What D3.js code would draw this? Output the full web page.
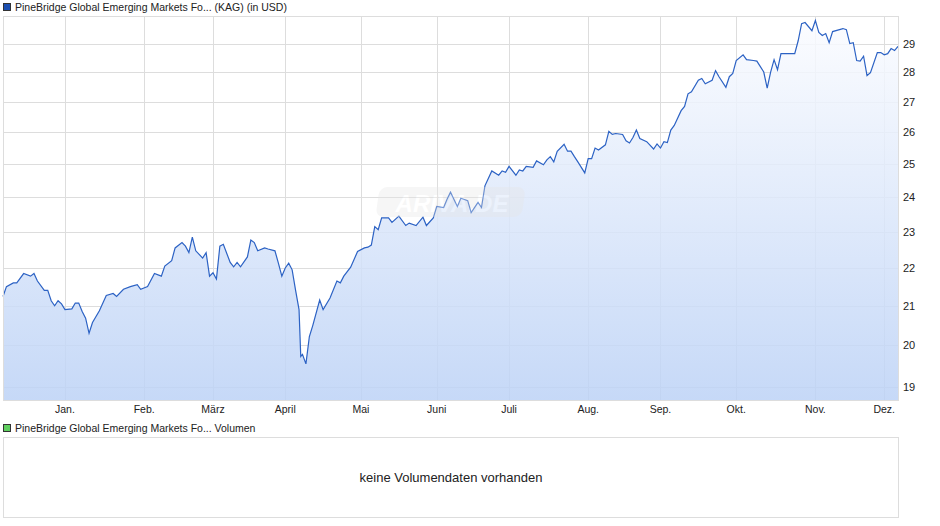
<!DOCTYPE html>
<html><head><meta charset="utf-8">
<script src="https://cdn.jsdelivr.net/npm/d3@7"></script>
<style>body{margin:0;background:#fff}svg{font-family:"Liberation Sans",Arial,sans-serif}</style>
</head><body><div id="chart"></div>
<script>
// trading day number counted from 2024-12-06, and fund price (USD)
const tradingDay = [0,1,3,4,6,8,9,10,12,13,14,15,16,17,18,20,21,22,23,24,25,26,28,30,32,33,35,37,39,40,42,44,46,47,49,50,52,53,54,55,56,58,59,60,61,62,63,64,66,67,68,69,71,72,73,74,76,77,79,80,81,82,83,84,85,86,86.5,87,88,89,90,92,93,95,97,98,99,101,103,105,106,107,108,109,110,112,113,115,117,118,120,122,123,125,126,128,129,130,132,133,135,136,138,139,140,142,144,145,146,147,149,150,151,152,154,155,157,158,159,160,161,163,164,165,166,167,169,170,171,172,173,175,176,177,178,180,181,182,183,184,185,187,189,190,191,192,193,194,195,197,198,199,200,202,203,204,206,207,208,210,211,212,213,215,216,218,219,221,222,223,224,225,226,228,230,231,232,233,235,236,237,238,239,240,241,244,245,246,247,248,249,250,251,252,254,255,256,257,258,259,260];
const prices = [21.24,21.5,21.6,21.6,21.85,21.78,21.85,21.65,21.4,21.4,21.13,21.0,21.13,21.05,20.9,20.92,21.07,21.07,20.85,20.68,20.3,20.57,20.87,21.27,21.32,21.24,21.43,21.5,21.55,21.43,21.5,21.85,21.78,22.05,22.2,22.55,22.7,22.6,22.42,22.85,22.47,22.27,22.42,21.78,21.87,21.7,22.6,22.65,22.15,22.03,22.15,22.03,22.3,22.77,22.7,22.47,22.55,22.52,22.47,22.13,21.78,22.0,22.13,21.95,21.4,20.9,19.73,19.78,19.55,20.22,20.5,21.15,20.9,21.2,21.65,21.6,21.78,22.02,22.45,22.55,22.57,22.63,23.15,23.06,23.4,23.4,23.27,23.45,23.18,23.25,23.18,23.42,23.18,23.4,23.73,23.7,23.94,24.15,23.73,23.97,23.9,23.55,23.85,23.7,24.34,24.79,24.66,24.79,24.75,24.93,24.66,24.82,24.79,24.93,24.9,25.1,24.98,25.13,25.23,25.07,25.4,25.62,25.4,25.4,25.23,25.07,24.73,25.17,25.17,25.5,25.44,25.6,26.03,25.93,25.96,25.93,25.73,25.66,25.83,26.07,25.8,25.7,25.47,25.63,25.5,25.7,25.67,26.07,26.22,26.7,26.84,27.26,27.33,27.72,27.78,27.6,27.72,28.05,27.84,27.48,27.84,27.95,28.4,28.6,28.43,28.4,28.38,28.0,27.45,28.0,28.43,28.08,28.64,28.64,28.64,29.1,29.72,29.76,29.46,29.83,29.4,29.29,29.36,29.03,29.43,29.54,29.5,29.0,29.03,28.4,28.38,28.55,27.88,27.98,28.68,28.68,28.6,28.64,28.82,28.75,28.9];
const yTicks = [19,20,21,22,23,24,25,26,27,28,29];
const monthLabels = ["Jan.","Feb.","März","April","Mai","Juni","Juli","Aug.","Sep.","Okt.","Nov.","Dez."];

const W = 940, H = 526;
const pLeft = 3, pRight = 898, pTop = 16, pBottom = 400;
const start = new Date(2024, 11, 6);
const n = Math.min(tradingDay.length, prices.length);
const data = tradingDay.slice(0, n).map((t, i) => ({t: t, v: prices[i]}));

// weekday count from start date, used to place the month grid
const weekdaysTo = d => d3.timeDay.range(start, d).filter(k => k.getDay() % 6 !== 0).length;

const svg = d3.select("#chart").append("svg").attr("width", W).attr("height", H);

const x = d3.scaleLinear().domain([0, 260]).range([pLeft, pRight]);
const y = d3.scaleLog().domain([18.7, 30.0]).range([pBottom, pTop]);

const defs = svg.append("defs");
const grad = defs.append("linearGradient").attr("id", "fill").attr("x1", 0).attr("y1", 0).attr("x2", 0).attr("y2", 1);
grad.append("stop").attr("offset", "0%").attr("stop-color", "#fbfcff");
grad.append("stop").attr("offset", "100%").attr("stop-color", "#bcd2f6");

// grid
svg.append("g").selectAll("line").data(yTicks).enter().append("line")
  .attr("x1", pLeft).attr("x2", pRight)
  .attr("y1", d => Math.round(y(d)) + 0.5).attr("y2", d => Math.round(y(d)) + 0.5)
  .attr("stroke", "#dddddd");
const months = d3.timeMonth.range(new Date(2025, 0, 1), new Date(2025, 11, 2)).map(weekdaysTo);
svg.append("g").selectAll("line").data(months).enter().append("line")
  .attr("x1", d => Math.round(x(d)) + 0.5).attr("x2", d => Math.round(x(d)) + 0.5)
  .attr("y1", pTop).attr("y2", pBottom)
  .attr("stroke", "#dddddd");

// area + line
svg.append("path").datum(data)
  .attr("d", d3.area().x(d => x(d.t)).y0(pBottom).y1(d => y(d.v)))
  .attr("fill", "url(#fill)").attr("opacity", 0.85);
svg.append("path").datum(data)
  .attr("d", d3.line().x(d => x(d.t)).y(d => y(d.v)))
  .attr("fill", "none").attr("stroke", "#2c62c4").attr("stroke-width", 1.2);

// watermark
const wm = svg.append("g").attr("opacity", 0.35);
wm.append("rect").attr("x", 378).attr("y", 187).attr("width", 146).attr("height", 30).attr("rx", 8)
  .attr("fill", "#e6e6e6").attr("transform", "skewX(-8) translate(28,0)");
wm.append("text").attr("x", 452).attr("y", 212).attr("text-anchor", "middle")
  .attr("font-size", 24).attr("font-weight", "bold").attr("font-style", "italic")
  .attr("fill", "#ffffff").text("ARIVA.DE");

// frame
svg.append("rect").attr("x", pLeft + 0.5).attr("y", pTop + 0.5)
  .attr("width", pRight - pLeft).attr("height", pBottom - pTop)
  .attr("fill", "none").attr("stroke", "#dddddd");

// y axis labels
svg.append("g").selectAll("text").data(yTicks).enter().append("text")
  .attr("x", 903).attr("y", d => y(d) + 4)
  .attr("font-size", 11).attr("fill", "#222").text(d => d);

// month labels
svg.append("g").selectAll("text").data(months).enter().append("text")
  .attr("x", d => x(d)).attr("y", 413).attr("text-anchor", "middle")
  .attr("font-size", 10.5).attr("fill", "#222").text((d, i) => monthLabels[i]);

// legends
svg.append("rect").attr("x", 3.5).attr("y", 3.5).attr("width", 7).attr("height", 7)
  .attr("fill", "#1c4fb0").attr("stroke", "#333");
svg.append("text").attr("x", 15).attr("y", 11).attr("font-size", 10.5).attr("fill", "#222")
  .text("PineBridge Global Emerging Markets Fo... (KAG) (in USD)");
svg.append("rect").attr("x", 3.5).attr("y", 424.5).attr("width", 7).attr("height", 7)
  .attr("fill", "#5fcf5f").attr("stroke", "#333");
svg.append("text").attr("x", 15).attr("y", 432).attr("font-size", 10.5).attr("fill", "#222")
  .text("PineBridge Global Emerging Markets Fo... Volumen");

// volume panel
svg.append("rect").attr("x", 3.5).attr("y", 437.5).attr("width", pRight - pLeft).attr("height", 80)
  .attr("fill", "none").attr("stroke", "#dddddd");
svg.append("text").attr("x", 451).attr("y", 482).attr("text-anchor", "middle")
  .attr("font-size", 13).attr("fill", "#222").text("keine Volumendaten vorhanden");
</script></body></html>
